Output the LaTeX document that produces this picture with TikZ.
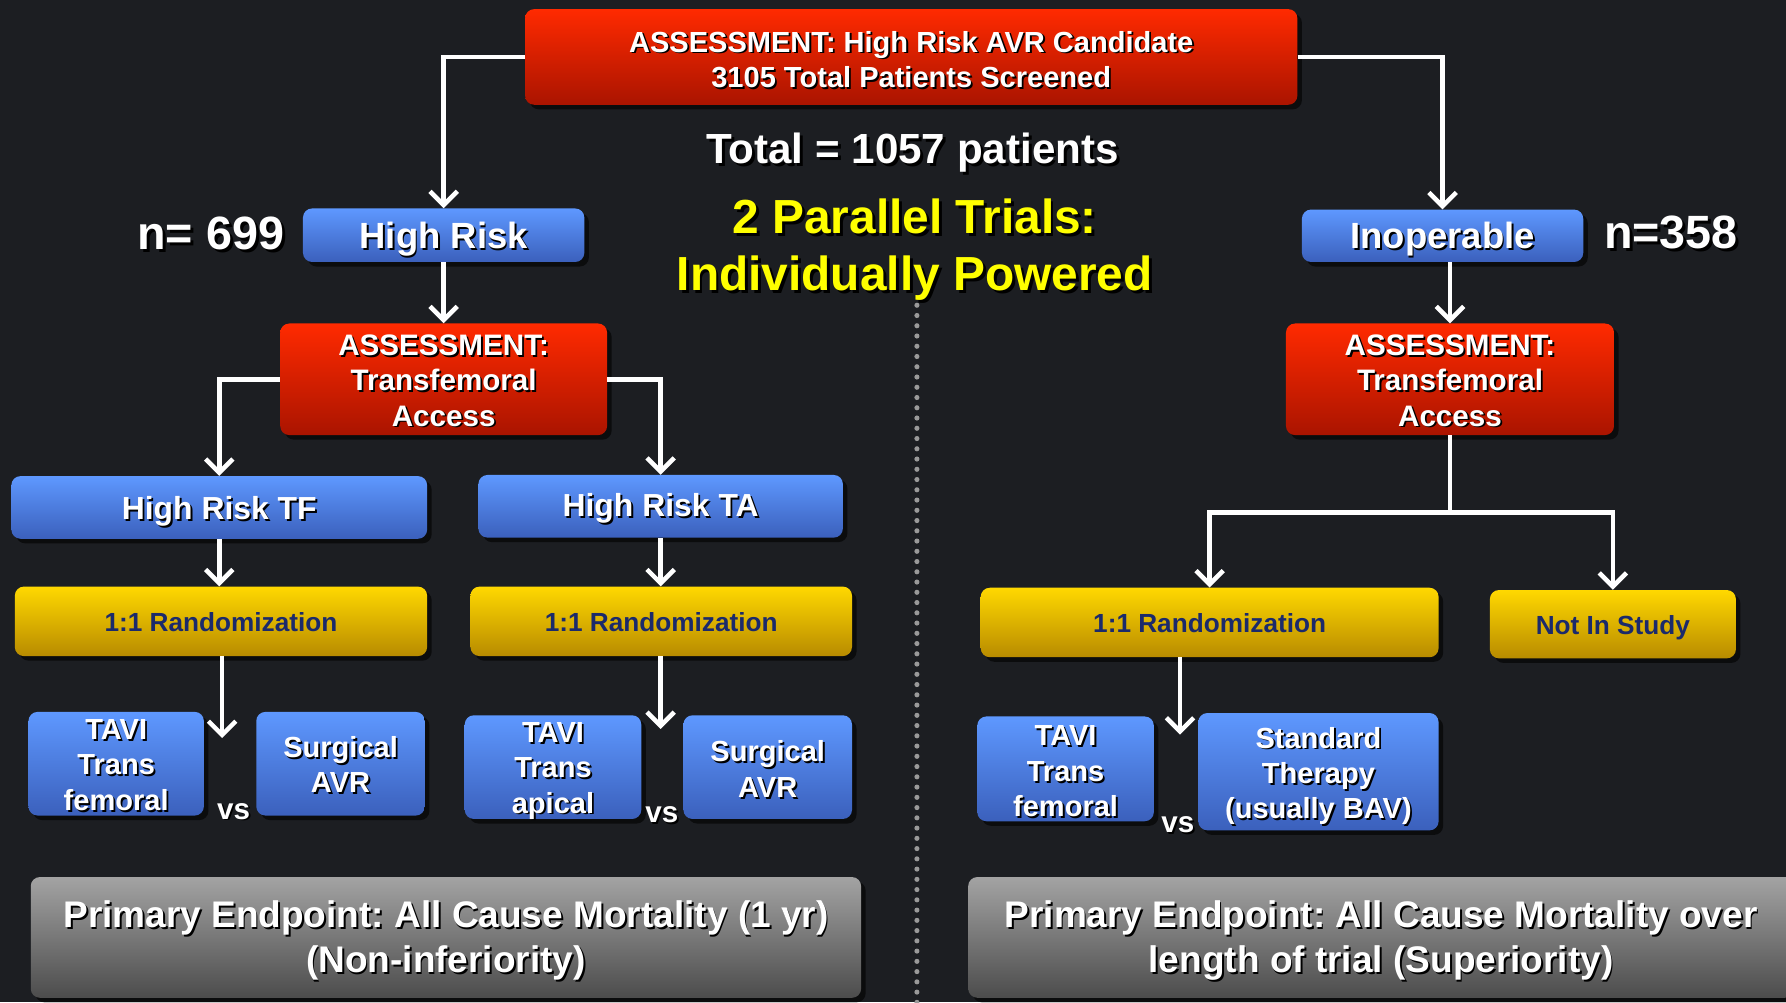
\documentclass[tikz,border=0pt]{standalone}
\usepackage{fontspec}
\setmainfont{Liberation Sans}
\usetikzlibrary{arrows.meta,shadows}
\frenchspacing

\definecolor{bg}{HTML}{1C1E22}
\definecolor{redT}{HTML}{FF2A00}
\definecolor{redB}{HTML}{AA1400}
\definecolor{bluT}{HTML}{5E98FF}
\definecolor{bluB}{HTML}{3B60BC}
\definecolor{yelT}{HTML}{FFD800}
\definecolor{yelB}{HTML}{B88B00}
\definecolor{gryT}{HTML}{A3A3A3}
\definecolor{gryB}{HTML}{4C4C4C}
\definecolor{navy}{HTML}{1B2A6B}
\definecolor{ttl}{HTML}{FFFF00}
\definecolor{dotc}{HTML}{9A9A9A}

% one line of text with a small dark drop shadow, set slightly low
% without changing its reported size
\newcommand\st[2][3pt]{\raisebox{-#1}[\height][\depth]{\rlap{\kern1.6pt\raisebox{-1.6pt}{\color{black}#2}}#2}}
\newcommand\stb[2][4.5pt]{\raisebox{-#1}[\height][\depth]{\rlap{\kern2.6pt\raisebox{-2.6pt}{\color{black}#2}}#2}}
\newcommand\low[2][3pt]{\raisebox{-#1}[\height][\depth]{#2}}

\tikzset{
  box/.style={rounded corners=8pt, inner sep=0pt, align=center, text=white,
    drop shadow={shadow xshift=4pt, shadow yshift=-4pt, fill=black, opacity=0.6}},
  redbox/.style={box, top color=redT, bottom color=redB},
  bluebox/.style={box, top color=bluT, bottom color=bluB},
  yelbox/.style={box, top color=yelT, bottom color=yelB, text=navy},
  grybox/.style={box, top color=gryT, bottom color=gryB},
  plain/.style={inner sep=0pt, align=center, text=white},
  wire/.style={draw=white, line width=4pt, line join=miter},
  arr/.style={wire, -{Straight Barb[length=12pt,width=24pt]}},
}

\begin{document}
\begin{tikzpicture}[x=1pt, y=-1pt]
\fill[bg] (0,0) rectangle (1568,880);
\useasboundingbox (0,0) rectangle (1568,880);

% separator between the two trials
\draw[dotc, line width=4.5pt, line cap=round, dash pattern=on 0pt off 9pt] (805,268) -- (805,880);

% top level
\node[redbox, minimum width=678pt, minimum height=84pt, font=\bfseries\fontsize{25.5}{31}\selectfont]
  (top) at (800,50) {\st{ASSESSMENT: High Risk AVR Candidate}\\\st{3105 Total Patients Screened}};
\node[plain, font=\bfseries\fontsize{37}{44}\selectfont] (total) at (801,131) {\stb{Total = 1057 patients}};
\node[plain, text=ttl, font=\bfseries\fontsize{42}{50}\selectfont] (par) at (803,216)
  {\stb{2 Parallel Trials:}\\\stb{Individually Powered}};

\node[bluebox, minimum width=247pt, minimum height=47pt, font=\bfseries\fontsize{32}{38}\selectfont]
  (hr) at (389.5,206.5) {\st[4pt]{High Risk}};
\node[plain, font=\bfseries\fontsize{41}{48}\selectfont] (n699) at (185,205) {\stb[1.5pt]{n= 699}};
\node[bluebox, minimum width=247pt, minimum height=46pt, font=\bfseries\fontsize{32}{38}\selectfont]
  (inop) at (1266.5,207) {\st[4pt]{Inoperable}};
\node[plain, font=\bfseries\fontsize{41}{48}\selectfont] (n358) at (1467,203) {\stb[2pt]{n=358}};

% access assessments
\node[redbox, minimum width=287pt, minimum height=98pt, font=\bfseries\fontsize{26}{31}\selectfont]
  (asL) at (389.5,333) {\st[2pt]{ASSESSMENT:}\\\st[2pt]{Transfemoral}\\\st[2pt]{Access}};
\node[redbox, minimum width=288pt, minimum height=98pt, font=\bfseries\fontsize{26}{31}\selectfont]
  (asR) at (1273,333) {\st[2pt]{ASSESSMENT:}\\\st[2pt]{Transfemoral}\\\st[2pt]{Access}};

% high risk cohorts
\node[bluebox, minimum width=365pt, minimum height=55pt, font=\bfseries\fontsize{28}{34}\selectfont]
  (tf) at (192.5,445.5) {\st[4pt]{High Risk TF}};
\node[bluebox, minimum width=320pt, minimum height=55pt, font=\bfseries\fontsize{28}{34}\selectfont]
  (ta) at (580,444.5) {\st[3pt]{High Risk TA}};

% randomization
\node[yelbox, minimum width=362pt, minimum height=61pt, font=\bfseries\fontsize{23}{28}\selectfont]
  (rL) at (194,545.5) {\low[1pt]{1:1 Randomization}};
\node[yelbox, minimum width=335pt, minimum height=61pt, font=\bfseries\fontsize{23}{28}\selectfont]
  (rM) at (580.5,545.5) {\low[1pt]{1:1 Randomization}};
\node[yelbox, minimum width=402pt, minimum height=61pt, font=\bfseries\fontsize{23}{28}\selectfont]
  (rR) at (1062,546.5) {\low[1pt]{1:1 Randomization}};
\node[yelbox, minimum width=216pt, minimum height=60pt, font=\bfseries\fontsize{23}{28}\selectfont]
  (nis) at (1416,548) {\low[3.5pt]{Not In Study}};

% treatment arms
\tikzset{arm/.style={bluebox, font=\bfseries\fontsize{25.5}{31}\selectfont}}
\node[arm, minimum width=154pt, minimum height=91pt] (tavL) at (102,670.5)
  {\st[2pt]{TAVI}\\\st[2pt]{Trans}\\\st[2pt]{femoral}};
\node[arm, minimum width=148pt, minimum height=91pt] (surL) at (299,670.5)
  {\st[1.5pt]{Surgical}\\\st[1.5pt]{AVR}};
\node[plain, font=\bfseries\fontsize{26}{30}\selectfont] (vsL) at (205,710) {\st{vs}};

\node[arm, minimum width=155pt, minimum height=91pt] (tavM) at (485.5,673.5)
  {\st[4pt]{TAVI}\\\st[4pt]{Trans}\\\st[4pt]{apical}};
\node[arm, minimum width=148pt, minimum height=91pt] (surM) at (674,673.5)
  {\st[2.5pt]{Surgical}\\\st[2.5pt]{AVR}};
\node[plain, font=\bfseries\fontsize{26}{30}\selectfont] (vsM) at (581,713) {\st{vs}};

\node[arm, minimum width=155pt, minimum height=92pt] (tavR) at (935.5,675)
  {\st[3pt]{TAVI}\\\st[3pt]{Trans}\\\st[3pt]{femoral}};
\node[arm, minimum width=211pt, minimum height=103pt] (std) at (1157.5,677.5)
  {\st[4.5pt]{Standard}\\\st[4.5pt]{Therapy}\\\st[4.5pt]{(usually BAV)}};
\node[plain, font=\bfseries\fontsize{26}{30}\selectfont] (vsR) at (1034,722) {\st{vs}};

% endpoints
\node[grybox, minimum width=729pt, minimum height=106pt, font=\bfseries\fontsize{32.5}{40}\selectfont]
  (epL) at (391.5,823) {\st[3.5pt]{Primary Endpoint: All Cause Mortality (1 yr)}\\\st[3.5pt]{(Non-inferiority)}};
\node[grybox, minimum width=725pt, minimum height=106pt, font=\bfseries\fontsize{32.5}{40}\selectfont]
  (epR) at (1212.5,823) {\st[3.5pt]{Primary Endpoint: All Cause Mortality over}\\\st[3.5pt]{length of trial (Superiority)}};

% connectors
\coordinate (eL) at (195,648);
\coordinate (eM) at (580,640);
\coordinate (eR) at (1036,645);
\coordinate (jR) at (1273,450);

\draw[arr] (top.west) -| (hr.north);
\draw[arr] (top.east) -| (inop.north);
\draw[arr] (hr.south) -- (hr.south |- asL.north);
\draw[arr] (inop.south -| asR.north) -- (asR.north);
\draw[arr] (asL.west) -| (tf.north);
\draw[arr] (asL.east) -| (ta.north);
\draw[arr] (tf.south) -- (tf.south |- rL.north);
\draw[arr] (ta.south) -- (ta.south |- rM.north);
\draw[arr] (rL.south -| eL) -- (eL);
\draw[arr] (rM.south -| eM) -- (eM);
\draw[arr] (rR.south -| eR) -- (eR);
\draw[wire] (asR.south) -- (jR);
\draw[arr] (jR) -| (rR.north);
\draw[arr] (jR) -| (nis.north);
\end{tikzpicture}
\end{document}
